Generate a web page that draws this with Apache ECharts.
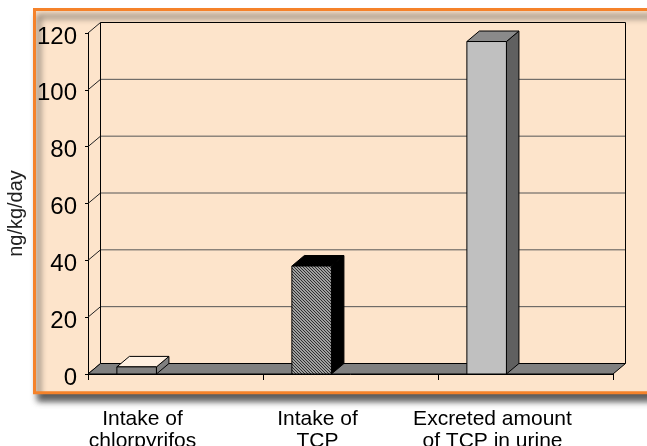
<!DOCTYPE html>
<html>
<head>
<meta charset="utf-8">
<style>
  html, body { margin: 0; padding: 0; background: #fff; }
  #chart { width: 647px; height: 446px; }
</style>
<script src="https://cdn.jsdelivr.net/npm/echarts@6/dist/echarts.min.js"></script>
</head>
<body>
<div id="chart"></div>
<script>
// Daily amounts (ng/kg/day)
const categories = ['Intake of\nchlorpyrifos', 'Intake of\nTCP', 'Excreted amount\nof TCP in urine'];
const amounts = [2.5, 38, 117];
const yTicks = [0, 20, 40, 60, 80, 100, 120];

// Pseudo-3D depth offset (pixels)
const DX = 12.5;
const DY = -10.5;

const FONT = '"Liberation Sans", Arial, sans-serif';
const PEACH = '#FDE4CB';

// Diagonal hatch fill for the middle column
function hatchCanvas() {
  const c = document.createElement('canvas');
  c.width = 3; c.height = 3;
  const g = c.getContext('2d');
  g.fillStyle = '#a0a0a0';
  g.fillRect(0, 0, 3, 3);
  g.fillStyle = '#2e2e2e';
  for (let i = 0; i < 3; i++) g.fillRect(i, i, 1, 1);
  return c;
}

// Face colours per column: front, side, top
const faces = [
  { front: '#808080', side: '#808080', top: '#FFF0E1' },
  { front: { image: hatchCanvas(), repeat: 'repeat' }, side: '#000000', top: '#000000' },
  { front: '#C0C0C0', side: '#606060', top: '#8A8A8A' }
];

const chart = echarts.init(document.getElementById('chart'), null, { renderer: 'canvas' });

function renderFrame(params, api) {
  const cs = params.coordSys;
  const left = cs.x;
  const right = cs.x + cs.width;
  const bottom = api.coord([0, yTicks[0]])[1];
  const topY = api.coord([0, yTicks[yTicks.length - 1]])[1];
  const children = [];
  // back wall
  children.push({
    type: 'rect',
    shape: { x: left + DX, y: topY + DY, width: right - left, height: bottom - topY },
    style: { fill: PEACH }
  });
  // back-wall gridlines and left-side connectors
  yTicks.forEach(function (v) {
    const y = api.coord([0, v])[1];
    if (v !== yTicks[0] && v !== yTicks[yTicks.length - 1]) {
      children.push({
        type: 'line',
        shape: { x1: left + DX, y1: y + DY, x2: right + DX, y2: y + DY },
        style: { stroke: '#555', lineWidth: 1 }
      });
    }
    children.push({
      type: 'line',
      shape: { x1: left, y1: y, x2: left + DX, y2: y + DY },
      style: { stroke: '#222', lineWidth: 1 }
    });
  });
  // back wall border
  children.push({
    type: 'polyline',
    shape: { points: [[left + DX, bottom + DY], [left + DX, topY + DY], [right + DX, topY + DY], [right + DX, bottom + DY]] },
    style: { stroke: '#000', lineWidth: 1, fill: null }
  });
  // floor
  children.push({
    type: 'polygon',
    shape: { points: [[left, bottom], [right, bottom], [right + DX, bottom + DY], [left + DX, bottom + DY]] },
    style: { fill: '#808080', stroke: '#000', lineWidth: 1 }
  });
  return { type: 'group', children: children };
}

function renderBar(params, api) {
  const i = api.value(0);
  const v = api.value(1);
  const base = api.coord([i, 0]);
  const top = api.coord([i, v]);
  const band = api.size([1, 0])[0];
  const x0 = base[0] - band * 0.335;
  const w = band * 0.226;
  const yb = base[1];
  const yt = top[1];
  const f = faces[i];
  const edge = { stroke: '#000', lineWidth: 1 };
  return {
    type: 'group',
    children: [
      {
        type: 'polygon',
        shape: { points: [[x0 + w, yt], [x0 + w + DX, yt + DY], [x0 + w + DX, yb + DY], [x0 + w, yb]] },
        style: Object.assign({ fill: f.side }, edge)
      },
      {
        type: 'polygon',
        shape: { points: [[x0, yt], [x0 + DX, yt + DY], [x0 + w + DX, yt + DY], [x0 + w, yt]] },
        style: Object.assign({ fill: f.top }, edge)
      },
      {
        type: 'rect',
        shape: { x: x0, y: yt, width: w, height: yb - yt },
        style: Object.assign({ fill: f.front }, edge)
      }
    ]
  };
}

const option = {
  backgroundColor: '#ffffff',
  animation: false,
  graphic: [{
    type: 'rect',
    z: -100,
    shape: { x: 34.5, y: 9.5, width: 660, height: 383.3 },
    style: {
      fill: PEACH,
      stroke: '#F5822A',
      lineWidth: 3,
      shadowColor: 'rgba(40,40,40,0.75)',
      shadowBlur: 6,
      shadowOffsetX: 4,
      shadowOffsetY: 7
    }
  }],
  grid: { left: 88, right: 34, top: 33, bottom: 72, outerBoundsMode: 'none', containLabel: false },
  xAxis: {
    type: 'category',
    data: categories,
    axisLine: { show: true, lineStyle: { color: '#000', width: 1 } },
    axisTick: { show: true, length: 6, lineStyle: { color: '#000' } },
    axisLabel: {
      interval: 0,
      fontFamily: FONT,
      fontSize: 21,
      lineHeight: 22,
      color: '#000',
      margin: 34,
      padding: [0, 66, 0, 0]
    }
  },
  yAxis: {
    type: 'value',
    min: yTicks[0],
    max: yTicks[yTicks.length - 1],
    interval: 20,
    name: 'ng/kg/day',
    nameLocation: 'middle',
    nameGap: 62,
    nameTextStyle: { fontFamily: FONT, fontSize: 20, color: '#222', padding: [0, 20, 0, 0] },
    axisLine: { show: true, lineStyle: { color: '#000', width: 1 } },
    axisTick: { show: true, length: 3, lineStyle: { color: '#000' } },
    splitLine: { show: false },
    axisLabel: {
      fontFamily: FONT,
      fontSize: 24,
      color: '#000',
      margin: 11,
      verticalAlign: 'top',
      lineHeight: 8
    }
  },
  series: [
    {
      type: 'custom',
      name: 'frame',
      renderItem: renderFrame,
      data: [[0, 0]],
      silent: true,
      z: 1
    },
    {
      type: 'custom',
      name: 'amount',
      renderItem: renderBar,
      data: amounts.map(function (v, i) { return [i, v]; }),
      z: 3
    }
  ]
};

chart.setOption(option);
</script>
</body>
</html>
